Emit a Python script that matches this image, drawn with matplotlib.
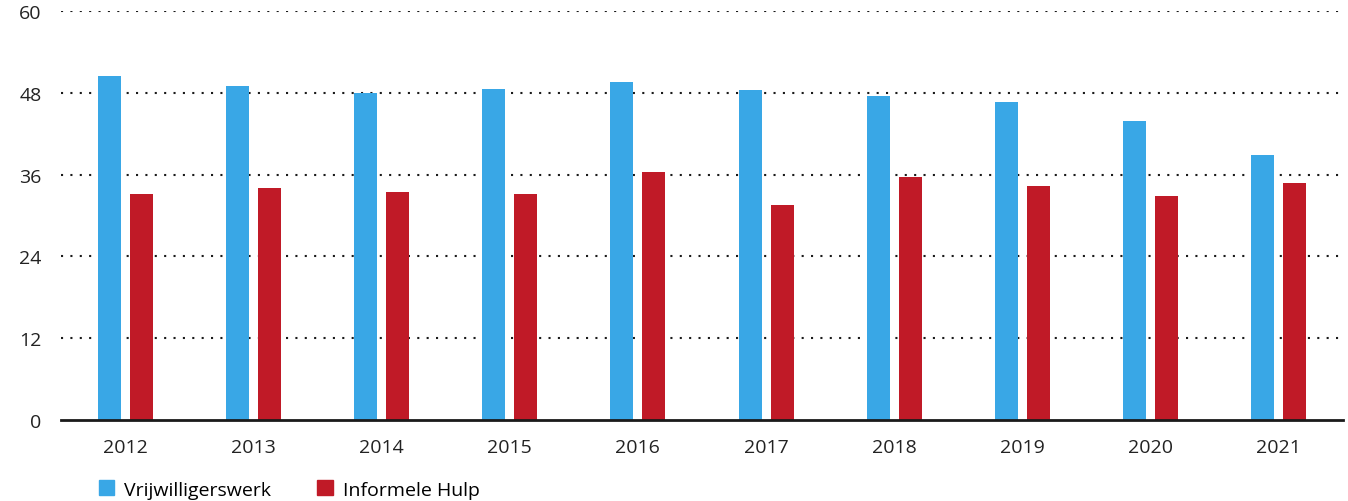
import matplotlib
matplotlib.use("Agg")
import matplotlib.pyplot as plt
import numpy as np
from matplotlib.patches import Patch

years = ["2012", "2013", "2014", "2015", "2016", "2017", "2018", "2019", "2020", "2021"]
vrijwilligerswerk = [50.5, 49.0, 48.0, 48.6, 49.6, 48.4, 47.6, 46.7, 43.8, 38.9]
informele_hulp = [33.2, 34.0, 33.5, 33.2, 36.4, 31.6, 35.6, 34.4, 32.9, 34.8]
series_names = ["Vrijwilligerswerk", "Informele Hulp"]
yticks = [0, 12, 24, 36, 48, 60]

BLUE = "#39a7e6"
RED = "#c01a27"

plt.rcParams["font.family"] = ["Open Sans", "DejaVu Sans"]

fig = plt.figure(figsize=(13.48, 5.02), dpi=100)
ax = fig.add_axes([61 / 1348, (502 - 421) / 502, (1343 - 61) / 1348, (421 - 12) / 502])

x = np.arange(len(years))
w = 0.18
off = 0.125
ax.bar(x - off, vrijwilligerswerk, width=w, color=BLUE, zorder=2)
ax.bar(x + off, informele_hulp, width=w, color=RED, zorder=2)

ax.set_xlim(-0.5, len(years) - 0.5)
ax.set_ylim(0, 60)
ax.set_yticks(yticks)
ax.set_yticklabels([str(t) for t in yticks])
ax.set_xticks(x)
ax.set_xticklabels(years)
ax.tick_params(axis="both", length=0, labelsize=14, colors="#222222")
ax.tick_params(axis="y", pad=14)
ax.tick_params(axis="x", pad=13)

for t in yticks[1:]:
    ax.axhline(t, color="#1a1a1a", linestyle=(0, (1, 3.5)), linewidth=1.5, zorder=1)

for s in ["top", "right", "left"]:
    ax.spines[s].set_visible(False)
ax.spines["bottom"].set_color("#1a1a1a")
ax.spines["bottom"].set_linewidth(2)
ax.spines["bottom"].set_zorder(3)

handles = [Patch(color=BLUE), Patch(color=RED)]
fig.legend(handles, series_names, loc="lower left", bbox_to_anchor=(81 / 1348, -0.03),
           ncol=2, frameon=False, fontsize=14, handlelength=0.8, handleheight=0.8,
           handletextpad=0.5, columnspacing=2.4)

fig.savefig("out.png", dpi=100)
